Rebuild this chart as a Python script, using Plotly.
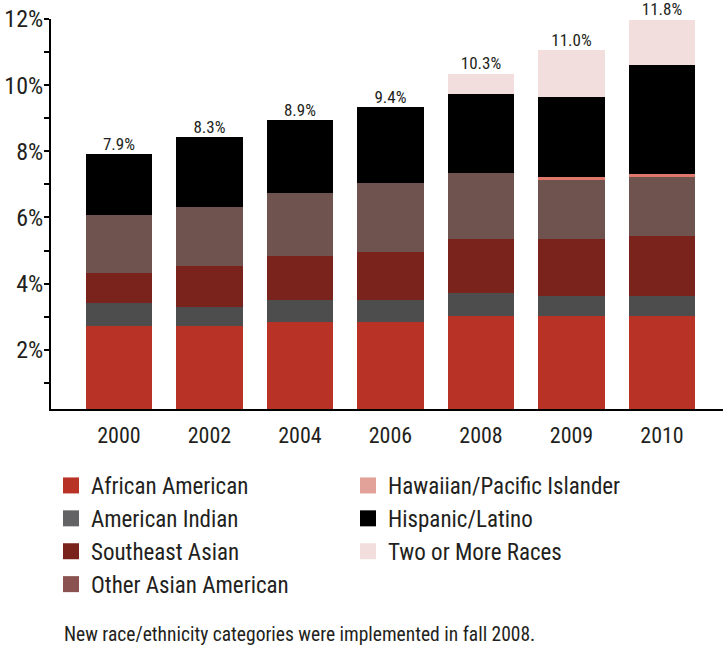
import plotly.graph_objects as go

years = ['2000', '2002', '2004', '2006', '2008', '2009', '2010']
total_labels = ['7.9%', '8.3%', '8.9%', '9.4%', '10.3%', '11.0%', '11.8%']

african_american = [2.73, 2.73, 2.83, 2.83, 3.03, 3.03, 3.03]
american_indian = [0.67, 0.57, 0.68, 0.68, 0.69, 0.59, 0.59]
southeast_asian = [0.93, 1.23, 1.33, 1.44, 1.62, 1.72, 1.83]
other_asian = [1.73, 1.78, 1.89, 2.08, 1.99, 1.79, 1.78]
hawaiian_pi = [0, 0, 0, 0, 0, 0.10, 0.09]
hispanic_latino = [1.86, 2.12, 2.21, 2.31, 2.41, 2.42, 3.28]
two_or_more = [0, 0, 0, 0, 0.61, 1.41, 1.38]

FONT = 'Roboto Condensed, Liberation Sans Narrow, sans-serif'
TXT = '#231f20'

# name, values, bar colour, legend swatch colour, legend rank
series = [
    ('African American', african_american, '#b83226', '#b83226', 1),
    ('American Indian', american_indian, '#4d4d4d', '#636366', 3),
    ('Southeast Asian', southeast_asian, '#7a231c', '#7a231c', 5),
    ('Other Asian American', other_asian, '#6e534e', '#8a5250', 7),
    ('Hawaiian/Pacific Islander', hawaiian_pi, '#e0776b', '#e2a299', 2),
    ('Hispanic/Latino', hispanic_latino, '#000000', '#000000', 4),
    ('Two or More Races', two_or_more, '#f3dede', '#f3dede', 6),
]

fig = go.Figure()
for name, vals, color, lcolor, rank in series:
    fig.add_trace(go.Bar(x=years, y=vals, name=name, showlegend=False,
                         marker=dict(color=color, line=dict(width=0)),
                         width=0.73))

# legend-only entries with larger square swatches
for name, vals, color, lcolor, rank in series:
    fig.add_trace(go.Scatter(x=[None], y=[None], name=name, legendrank=rank,
                             mode='markers',
                             marker=dict(symbol='square', size=16, color=lcolor)))

totals = [sum(v) for v in zip(*[s[1] for s in series])]
fig.add_trace(go.Scatter(x=years, y=totals, text=total_labels, mode='text',
                         textposition='top center', showlegend=False,
                         cliponaxis=False,
                         textfont=dict(family=FONT, size=17, color=TXT)))

fig.update_layout(
    barmode='stack',
    width=723, height=648,
    paper_bgcolor='white', plot_bgcolor='white',
    margin=dict(l=51, r=0, t=19, b=239),
    font=dict(family=FONT, color=TXT),
    xaxis=dict(range=[-0.751, 6.674], showline=True, linecolor='black',
               linewidth=2, ticks='', tickfont=dict(size=22),
               ticklabelstandoff=6, showgrid=False, automargin=False,
               layer='below traces'),
    yaxis=dict(range=[0.21, 12.0], showline=True, linecolor='black',
               linewidth=2, ticks='outside', ticklen=5, tickwidth=2,
               tickcolor='black', ticklabelstandoff=-4,
               tickvals=list(range(1, 13)),
               ticktext=['' if i % 2 else f'{i}%' for i in range(1, 13)],
               tickfont=dict(size=24), showgrid=False, zeroline=False,
               automargin=False),
    legend=dict(orientation='h', x=0.0, y=-0.141, xanchor='left', yanchor='top',
                entrywidth=252, entrywidthmode='pixels',
                font=dict(size=23, family=FONT, color=TXT),
                traceorder='normal'),
    annotations=[dict(text='New race/ethnicity categories were implemented in fall 2008.',
                      xref='paper', yref='paper', x=(62 - 51) / 672, y=-0.577,
                      xanchor='left', yanchor='middle', showarrow=False,
                      font=dict(size=19.5, family=FONT, color=TXT))],
)

# page body has a default 8px margin; drop it so the figure sits at the corner
fig.write_html("out.html", config={'displayModeBar': False},
               post_script="document.body.style.margin='0';")
